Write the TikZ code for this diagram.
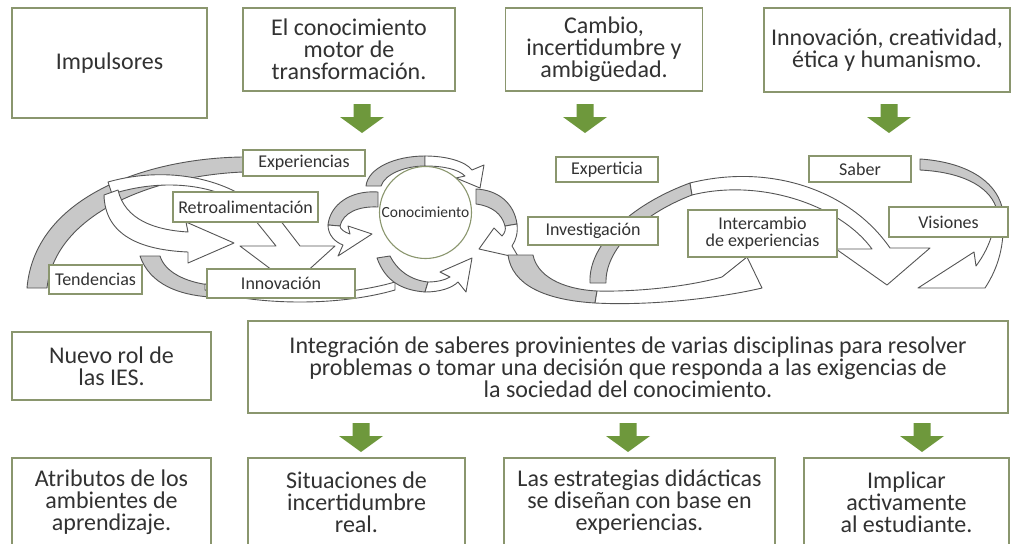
\documentclass[tikz,border=0pt]{standalone}
\usepackage{fontspec}
\setmainfont{Carlito}
\usetikzlibrary{positioning}
\definecolor{boxline}{RGB}{138,150,110}
\definecolor{txt}{RGB}{50,50,50}
\definecolor{arrgreen}{RGB}{110,152,60}
\definecolor{ribgray}{RGB}{200,200,200}
\definecolor{ribline}{RGB}{85,85,85}
\newcommand\boxtxt{\fontsize{24}{22}\selectfont}
\newcommand\tagtxt{\fontsize{18}{17}\selectfont}

\begin{document}
\begin{tikzpicture}[x=1pt,y=-1pt,
  bigbox/.style={draw=boxline, line width=1.6pt, fill=white, text=txt, align=center, font=\boxtxt, inner sep=0pt},
  tag/.style={draw=boxline, line width=1.3pt, fill=white, text=txt, align=center, font=\tagtxt, inner sep=0pt},
  grayrib/.style={fill=ribgray, draw=ribline, line width=0.9pt, line join=round},
  whiterib/.style={fill=white, draw=ribline, line width=0.9pt, line join=round},
  downarr/.pic={\fill[arrgreen] (-8.5,-14.5) -- (8.5,-14.5) -- (8.5,-1.5) -- (22,-1.5) -- (0,14.5) -- (-22,-1.5) -- (-8.5,-1.5) -- cycle;}]
\useasboundingbox[fill=white] (0,0) rectangle (1011,543);

% left loop
\draw[grayrib] (243,157) .. controls (150,158) and (35,195) .. (27,288) -- (47,288) .. controls (55,215) and (150,176) .. (243,172) -- cycle;
\draw[whiterib] (108,182) .. controls (150,170) and (200,172) .. (240,194) -- (222,194) .. controls (190,182) and (150,182) .. (112,194) -- cycle;
\draw[whiterib] (118,190) .. controls (125,220) and (155,230) .. (188,232) -- (186,222) -- (234,243) -- (188,263) -- (188,252) .. controls (140,250) and (105,235) .. (104,195) -- cycle;
\draw[whiterib] (255,220) -- (276,246) -- (240,246) -- (292,285) -- (335,246) -- (300,246) -- (280,220) -- cycle;
\draw[grayrib] (140,256) .. controls (150,285) and (180,295) .. (210,297) -- (210,285) .. controls (185,282) and (165,272) .. (160,256) -- cycle;
\draw[whiterib] (205,290) .. controls (260,306) and (340,306) .. (395,290) -- (395,282) .. controls (340,298) and (260,298) .. (205,284) -- cycle;

% round the circle
\draw[grayrib] (366,186) .. controls (368,168) and (395,156) .. (425,156) -- (425,166) .. controls (405,166) and (385,174) .. (381,186) -- cycle;
\draw[whiterib] (425,156) .. controls (448,156) and (466,162) .. (472,170) -- (484,165) -- (480,188) -- (456,178) -- (465,176) .. controls (458,169) and (443,166) .. (425,166) -- cycle;
\draw[grayrib] (476,189) .. controls (498,190) and (514,203) .. (517,224) -- (505,226) .. controls (502,214) and (492,206) .. (476,204) -- cycle;
\draw[whiterib] (517,224) .. controls (518,233) and (516,240) .. (512,246) -- (519,258) -- (479,249) -- (494,228) -- (502,236) .. controls (505,233) and (506,229) .. (505,226) -- cycle;
\draw[grayrib] (377,258) .. controls (385,280) and (400,290) .. (425,292) -- (428,282) .. controls (410,280) and (397,270) .. (390,256) -- cycle;
\draw[whiterib] (425,292) .. controls (440,292) and (452,288) .. (458,282) -- (466,292) -- (472,258) -- (440,272) -- (450,277) .. controls (445,280) and (437,282) .. (428,282) -- cycle;
\draw[grayrib] (378,192) .. controls (350,190) and (330,205) .. (328,225) -- (340,226) .. controls (343,213) and (358,206) .. (378,207) -- cycle;
\draw[whiterib] (328,225) .. controls (328,235) and (335,242) .. (343,245) -- (338,256) -- (372,234) -- (348,226) -- (350,234) .. controls (344,232) and (340,229) .. (340,226) -- cycle;

% right loop
\draw[grayrib] (508,255) .. controls (512,285) and (545,300) .. (595,303) -- (597,291) .. controls (560,289) and (537,275) .. (533,255) -- cycle;
\draw[whiterib] (595,303) .. controls (650,306) and (720,298) .. (762,288) -- (747,257) -- (722,277) .. controls (690,286) and (640,292) .. (597,291) -- cycle;
\draw[grayrib] (590,283) .. controls (588,245) and (630,205) .. (690,183) -- (692,195) .. controls (640,215) and (605,250) .. (606,283) -- cycle;
\draw[whiterib] (690,183) .. controls (770,163) and (850,190) .. (890,248) -- (930,248) -- (887,285) -- (836,249) -- (872,249) .. controls (840,205) and (760,178) .. (692,195) -- cycle;
\draw[grayrib] (920,159) .. controls (965,162) and (995,180) .. (1002,207) -- (996,207) .. controls (988,185) and (960,172) .. (920,170) -- cycle;
\draw[whiterib] (1002,207) .. controls (1006,240) and (1000,265) .. (985,288) -- (918,288) -- (974,252) -- (976,266) .. controls (988,250) and (996,230) .. (996,207) -- cycle;

% top row
\node[bigbox, minimum width=195pt, minimum height=110pt] (imp) at (109.5,63) {Impulsores};
\node[bigbox, minimum width=212pt, minimum height=83pt] (motor) at (349,49.5) {El conocimiento\\motor de\\transformación.};
\node[bigbox, minimum width=197pt, minimum height=83pt] (cambio) at (604,49.5) {Cambio,\\incertidumbre y\\ambigüedad.};
\node[bigbox, minimum width=246pt, minimum height=84pt] (innov) at (887,50) {Innovación, creatividad,\\ética y humanismo.};
\pic at (362,118.5) {downarr};
\pic at (585,118.5) {downarr};
\pic at (889,118.5) {downarr};

% labels of the loops
\node[tag, minimum width=122pt, minimum height=26pt] (experiencias) at (304,163) {Experiencias};
\node[tag, minimum width=145pt, minimum height=30pt] (retro) at (245.5,207) {Retroalimentación};
\node[tag, minimum width=93pt, minimum height=29pt] (tendencias) at (95.5,279.5) {Tendencias};
\node[tag, minimum width=148pt, minimum height=29pt] (innovacion) at (281,283.5) {Innovación};
\node[circle, draw=boxline, line width=1.1pt, fill=white, text=txt, font=\fontsize{15.5}{16}\selectfont, minimum size=92pt, inner sep=0pt] (conocimiento) at (425.5,212.5) {Conocimiento};
\node[tag, minimum width=102pt, minimum height=25pt] (experticia) at (607,169.5) {Experticia};
\node[tag, minimum width=130pt, minimum height=28pt] (investigacion) at (593,231) {Investigación};
\node[tag, minimum width=149pt, minimum height=47pt] (intercambio) at (762.5,233.5) {Intercambio\\de experiencias};
\node[tag, minimum width=102pt, minimum height=26pt] (saber) at (860,169) {Saber};
\node[tag, minimum width=119pt, minimum height=30pt] (visiones) at (948.5,222) {Visiones};

% rows below
\node[bigbox, minimum width=199pt, minimum height=68pt] (rol) at (111.5,366) {Nuevo rol de\\las IES.};
\node[bigbox, minimum width=760pt, minimum height=92pt] (integracion) at (628,367) {Integración de saberes provinientes de varias disciplinas para resolver\\problemas o tomar una decisión que responda a las exigencias de\\la sociedad del conocimiento.};
\pic at (361,437.5) {downarr};
\pic at (628,437.5) {downarr};
\pic at (922,437.5) {downarr};
\node[bigbox, minimum width=199pt, minimum height=88pt] (atributos) at (111.5,502) {Atributos de los\\ambientes de\\aprendizaje.};
\node[bigbox, minimum width=217pt, minimum height=88pt] (situaciones) at (356.5,502) {Situaciones de\\incertidumbre\\real.};
\node[bigbox, minimum width=271pt, minimum height=88pt] (estrategias) at (639.5,502) {Las estrategias didácticas\\se diseñan con base en\\experiencias.};
\node[bigbox, minimum width=205pt, minimum height=88pt] (implicar) at (906.5,502) {Implicar\\activamente\\al estudiante.};
\end{tikzpicture}
\end{document}
